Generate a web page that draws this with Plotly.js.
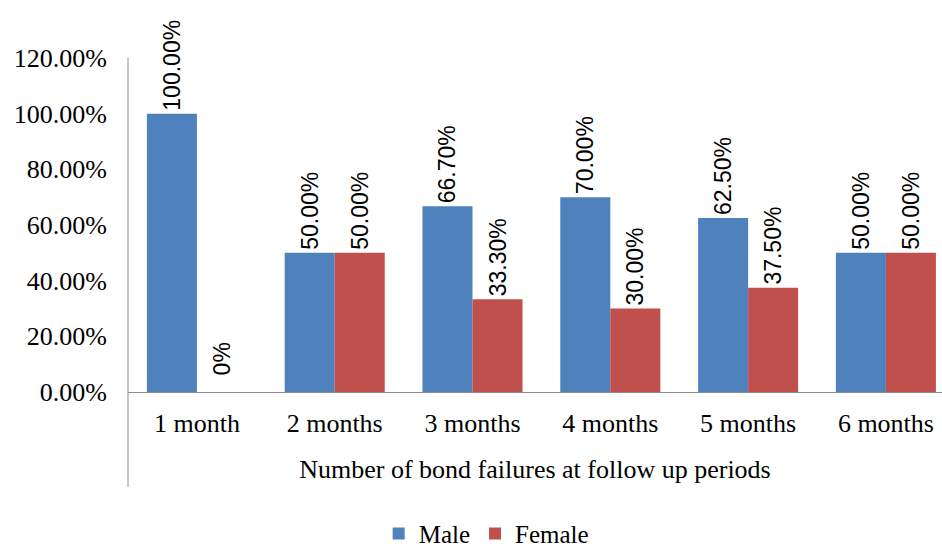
<!DOCTYPE html>
<html>
<head>
<meta charset="utf-8">
<script src="https://cdn.plot.ly/plotly-3.0.1.min.js"></script>
<style>html,body{margin:0;padding:0;background:#fff;}#chart{width:942px;height:548px;}</style>
</head>
<body>
<div id="chart"></div>
<script>
const categories = ["1 month", "2 months", "3 months", "4 months", "5 months", "6 months"];
const maleValues = [100, 50, 66.7, 70, 62.5, 50];
const femaleValues = [0, 50, 33.3, 30, 37.5, 50];
const maleLabels = ["100.00%", "50.00%", "66.70%", "70.00%", "62.50%", "50.00%"];
const femaleLabels = ["0%", "50.00%", "33.30%", "30.00%", "37.50%", "50.00%"];
const yTickVals = [0, 20, 40, 60, 80, 100, 120];
const yTickText = ["0.00%", "20.00%", "40.00%", "60.00%", "80.00%", "100.00%", "120.00%"];

const labelFont = {family: "Liberation Sans, Arial, sans-serif", size: 23, color: "#000"};
const serif = "Liberation Serif, Times New Roman, serif";

// Zero-height bars get their label via an annotation lifted a little higher (as in the reference)
const femaleBarText = femaleLabels.map((t, i) => femaleValues[i] === 0 ? "" : t);
const zeroAnnotations = femaleValues.map((v, i) => v === 0 ? {
  xref: "x", yref: "y", x: categories[i], y: v, xshift: 25, yshift: 15,
  text: femaleLabels[i], textangle: -90, showarrow: false,
  xanchor: "center", yanchor: "bottom", font: labelFont
} : null).filter(a => a);

const traces = [
  {type: "bar", name: "Male", x: categories, y: maleValues, text: maleLabels,
   textposition: "outside", textangle: -90, textfont: labelFont, cliponaxis: false,
   constraintext: "none", marker: {color: "#4F81BD"}, hoverinfo: "x+y"},
  {type: "bar", name: "Female", x: categories, y: femaleValues, text: femaleBarText,
   textposition: "outside", textangle: -90, textfont: labelFont, cliponaxis: false,
   constraintext: "none", marker: {color: "#C0504D"}, hoverinfo: "x+y"}
];

const layout = {
  width: 942, height: 548,
  margin: {l: 128, r: 0, t: 58, b: 156, pad: 0, autoexpand: false},
  paper_bgcolor: "#fff", plot_bgcolor: "#fff",
  barmode: "group", bargap: 0.274, bargroupgap: 0,
  font: {family: serif, size: 26, color: "#000"},
  showlegend: true,
  legend: {orientation: "h", x: 0.44, xanchor: "center", yref: "container", y: 0.026, yanchor: "middle",
           font: {family: serif, size: 25, color: "#000"}, itemwidth: 30, traceorder: "normal"},
  xaxis: {type: "category", range: [-0.5, 5.407], showline: true, linecolor: "#8c8c8c", linewidth: 1, automargin: false,
          ticks: "", showgrid: false, zeroline: false, ticklabelstandoff: 8,
          tickfont: {family: serif, size: 26, color: "#000"},
          title: {text: "Number of bond failures at follow up periods", standoff: 22,
                  font: {family: serif, size: 26, color: "#000"}}},
  yaxis: {range: [0, 120], tickvals: yTickVals, ticktext: yTickText, showline: false, automargin: false,
          showgrid: false, zeroline: false, ticks: "", ticklabelstandoff: 20,
          tickfont: {family: serif, size: 26, color: "#000"}},
  annotations: zeroAnnotations,
  shapes: [
    {type: "line", xref: "paper", yref: "paper", x0: 0, x1: 0, y0: 1.0, y1: -0.284,
     line: {color: "#8c8c8c", width: 1}}
  ]
};

Plotly.newPlot("chart", traces, layout, {displayModeBar: false, staticPlot: true});
</script>
</body>
</html>
